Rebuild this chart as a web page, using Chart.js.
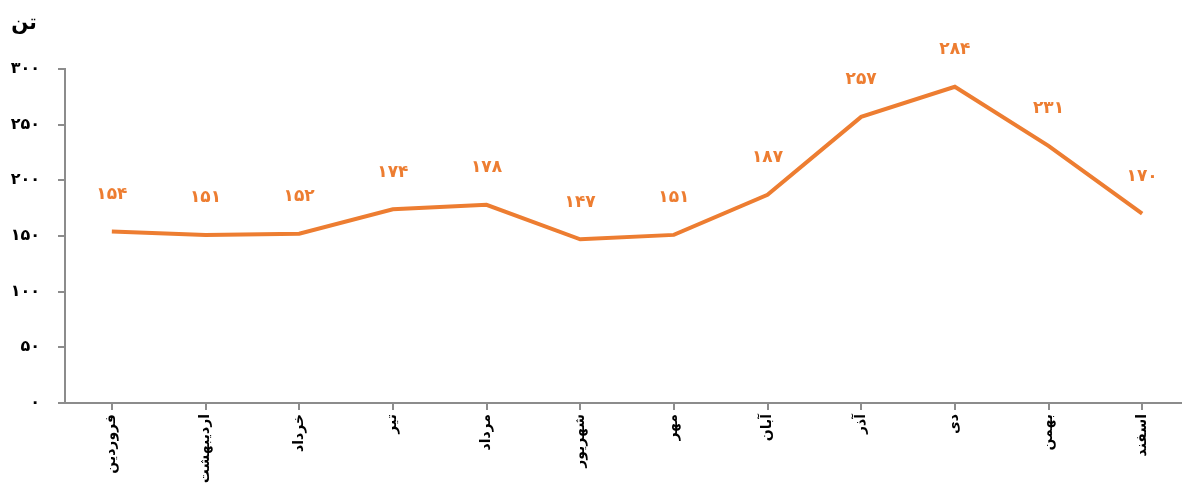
<!DOCTYPE html>
<html lang="fa">
<head>
<meta charset="utf-8">
<script src="https://cdn.jsdelivr.net/npm/chart.js@4.4.1/dist/chart.umd.min.js"></script>
<style>
  html, body { margin: 0; padding: 0; background: #fff; }
  #wrap { position: relative; width: 1182px; height: 495px; overflow: hidden; }
</style>
</head>
<body>
<div id="wrap"><canvas id="chart" width="1189" height="495"></canvas></div>
<script>
// ── Data ──
const months = ['فروردین', 'اردیبهشت', 'خرداد', 'تیر', 'مرداد', 'شهریور', 'مهر', 'آبان', 'آذر', 'دی', 'بهمن', 'اسفند'];
const tonnage = [154, 151, 152, 174, 178, 147, 151, 187, 257, 284, 231, 170];
const yUnit = 'تن';

const ORANGE = '#ED7D31';
const AXIS = '#8c8c8c';
const FONT = '"DejaVu Sans", sans-serif';

const faDigits = n => String(n).replace(/\d/g, d => '۰۱۲۳۴۵۶۷۸۹'[d]);

// برچسب مقدار بالای هر نقطه + واحد محور
const labelsPlugin = {
  id: 'labels',
  afterDatasetsDraw(chart) {
    const ctx = chart.ctx;
    const meta = chart.getDatasetMeta(0);
    ctx.save();
    ctx.fillStyle = ORANGE;
    ctx.font = 'bold 17px ' + FONT;
    ctx.textAlign = 'center';
    ctx.textBaseline = 'middle';
    meta.data.forEach((pt, i) => {
      ctx.fillText(faDigits(tonnage[i]), pt.x, pt.y - 37);
    });
    ctx.fillStyle = '#000';
    ctx.font = 'bold 20px ' + FONT;
    ctx.fillText(yUnit, 24, 24);
    ctx.restore();
  }
};

new Chart(document.getElementById('chart'), {
  type: 'line',
  data: {
    labels: months,
    datasets: [{
      data: tonnage,
      borderColor: ORANGE,
      borderWidth: 4,
      pointRadius: 0,
      tension: 0,
      fill: false,
    }],
  },
  options: {
    responsive: false,
    animation: false,
    layout: { padding: { top: 69, right: 0, left: 0, bottom: 0 } },
    plugins: { legend: { display: false }, tooltip: { enabled: false } },
    scales: {
      x: {
        offset: true,
        grid: { drawOnChartArea: false, drawTicks: true, tickLength: 7, color: AXIS, offset: false, lineWidth: 2 },
        border: { color: AXIS, width: 2 },
        ticks: {
          color: '#000',
          font: { family: FONT, size: 14, weight: 'bold' },
          minRotation: 90,
          maxRotation: 90,
          padding: 4,
          autoSkip: false,
        },
        afterFit: s => { s.height = 92; },
      },
      y: {
        min: 0,
        max: 300,
        grid: { drawOnChartArea: false, drawTicks: true, tickLength: 7, color: AXIS, lineWidth: 2 },
        border: { color: AXIS, width: 2 },
        ticks: {
          stepSize: 50,
          color: '#000',
          font: { family: FONT, size: 16, weight: 'bold' },
          padding: 18,
          callback: v => faDigits(v),
        },
        afterFit: s => { s.width = 65; },
      },
    },
  },
  plugins: [labelsPlugin],
});
</script>
</body>
</html>
